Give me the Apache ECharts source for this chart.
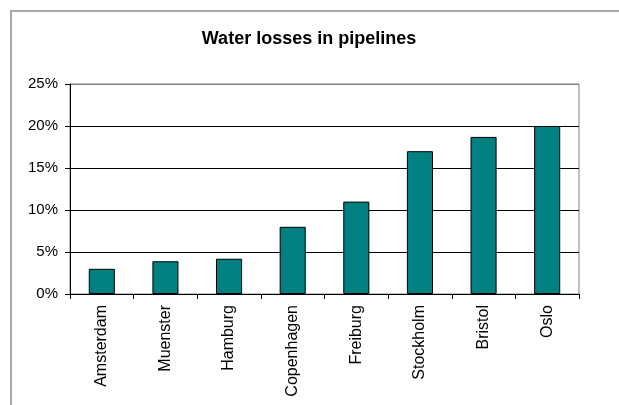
<!DOCTYPE html>
<html>
<head>
<meta charset="utf-8">
<script src="https://cdn.jsdelivr.net/npm/echarts@6/dist/echarts.min.js"></script>
<style>
  html, body { margin: 0; padding: 0; background: #fff; }
  #chart { width: 619px; height: 405px; }
</style>
</head>
<body>
<div id="chart"></div>
<script>
// Share of water lost in distribution pipelines, by city (percent)
const cities = ['Amsterdam', 'Muenster', 'Hamburg', 'Copenhagen', 'Freiburg', 'Stockholm', 'Bristol', 'Oslo'];
const lossPercent = [3.0, 3.9, 4.2, 8.0, 11.0, 17.0, 18.7, 20.0];
const yTicks = { min: 0, max: 25, step: 5 };

const chart = echarts.init(document.getElementById('chart'), null, { renderer: 'canvas' });

const fontFamily = 'Arial, "Liberation Sans", sans-serif';

chart.setOption({
  backgroundColor: '#ffffff',
  animation: false,
  title: {
    text: 'Water losses in pipelines',
    left: 304,
    textAlign: 'center',
    top: 25,
    textStyle: { fontFamily, fontWeight: 'bold', fontSize: 18, color: '#000' }
  },
  graphic: [
    {
      type: 'polyline',
      silent: true,
      shape: { points: [[11, 405], [11, 11], [619, 11]] },
      style: { stroke: '#a8a8a8', lineWidth: 2, fill: null }
    }
  ],
  grid: {
    left: 70, right: 40, top: 84, bottom: 111,
    show: true,
    borderColor: '#808080',
    borderWidth: 1,
    backgroundColor: 'transparent'
  },
  xAxis: {
    type: 'category',
    data: cities,
    axisLine: { lineStyle: { color: '#000', width: 1 } },
    axisTick: { show: true, length: 5, alignWithLabel: false, lineStyle: { color: '#000' } },
    axisLabel: {
      rotate: 90,
      margin: 11,
      interval: 0,
      fontFamily, fontSize: 16, color: '#000'
    }
  },
  yAxis: {
    type: 'value',
    min: yTicks.min,
    max: yTicks.max,
    interval: yTicks.step,
    axisLine: { show: true, lineStyle: { color: '#000', width: 1 } },
    axisTick: { show: true, length: 5, lineStyle: { color: '#000' } },
    splitLine: {
      show: true,
      lineStyle: { color: ['#000', '#000', '#000', '#000', '#000', '#808080'], width: 1 }
    },
    axisLabel: {
      formatter: '{value}%',
      margin: 12,
      fontFamily, fontSize: 15, color: '#000'
    }
  },
  series: [
    {
      type: 'bar',
      data: lossPercent,
      barCategoryGap: '59%',
      itemStyle: { color: '#008080', borderColor: '#000', borderWidth: 1 }
    }
  ]
});
</script>
</body>
</html>
